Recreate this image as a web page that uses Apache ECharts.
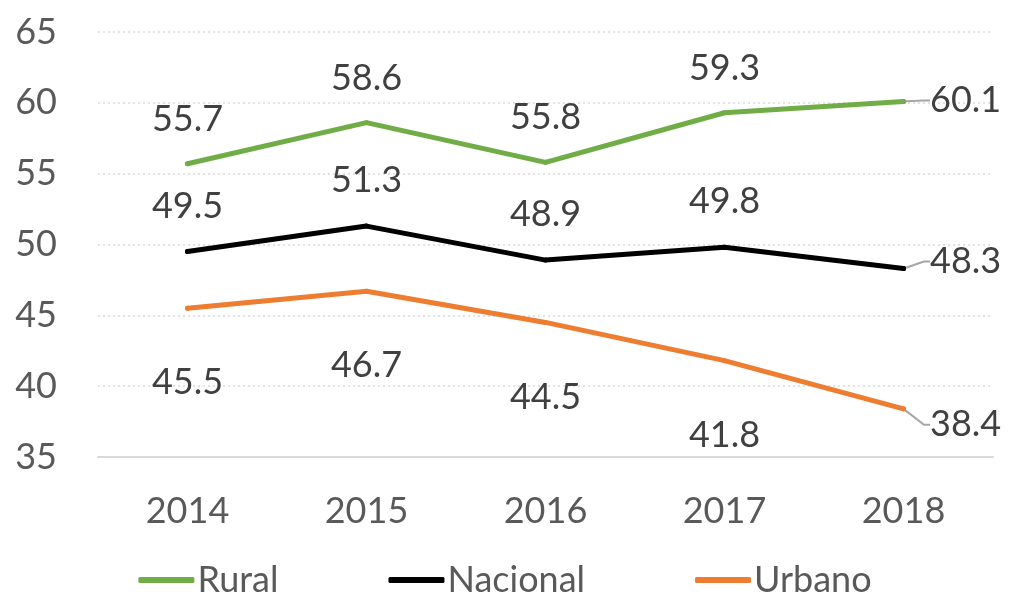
<!DOCTYPE html>
<html>
<head>
<meta charset="utf-8">
<script src="https://cdn.jsdelivr.net/npm/echarts@6/dist/echarts.min.js"></script>
<style>
  html, body { margin: 0; padding: 0; background: #fff; }
  #main { width: 1010px; height: 600px; }
</style>
</head>
<body>
<div id="main"></div>
<script>
  var years = ['2014', '2015', '2016', '2017', '2018'];
  var rural = [55.7, 58.6, 55.8, 59.3, 60.1];
  var nacional = [49.5, 51.3, 48.9, 49.8, 48.3];
  var urbano = [45.5, 46.7, 44.5, 41.8, 38.4];
  var yTicks = [35, 40, 45, 50, 55, 60, 65];

  var font = 'Lato';
  var chart = echarts.init(document.getElementById('main'));

  // desplazamiento de la última etiqueta (con línea guía)
  var lastShift = [[20, -1], [20, -7], [20, 16]];

  function makeSeries(name, data, color, pos, dist, idx) {
    return {
      name: name,
      type: 'line',
      data: data.map(function (v, i) {
        if (i === data.length - 1) {
          return {
            value: v,
            label: { position: 'right', distance: 4 },
            labelLine: { show: true, length2: 6, lineStyle: { color: '#a6a6a6', width: 2 } }
          };
        }
        return v;
      }),
      symbol: 'circle',
      symbolSize: 5,
      itemStyle: { color: color },
      lineStyle: { color: color, width: 5, cap: 'round' },
      label: {
        show: true,
        position: pos,
        distance: dist,
        fontFamily: font,
        fontSize: 36,
        color: '#404040',
        formatter: function (p) { return p.value.toFixed(1); }
      },
      labelLine: { show: false },
      labelLayout: function (p) {
        if (p.dataIndex === data.length - 1) {
          return { dx: lastShift[idx][0], dy: lastShift[idx][1] };
        }
        return {};
      },
      emphasis: { disabled: true },
      animation: false
    };
  }

  chart.setOption({
    animation: false,
    grid: { left: 98, right: 17, top: 32, bottom: 143 },
    legend: {
      bottom: -3,
      left: 'center',
      itemWidth: 56,
      itemHeight: 6,
      itemGap: 110,
      icon: 'roundRect',
      textStyle: { fontFamily: font, fontSize: 36, color: '#595959', padding: [0, 0, 0, -2] },
      data: ['Rural', 'Nacional', 'Urbano']
    },
    xAxis: {
      type: 'category',
      data: years,
      boundaryGap: true,
      axisLine: { lineStyle: { color: '#d9d9d9', width: 2 } },
      axisTick: { show: false },
      axisLabel: { fontFamily: font, fontSize: 36, color: '#595959', margin: 36 }
    },
    yAxis: {
      type: 'value',
      min: yTicks[0],
      max: yTicks[yTicks.length - 1],
      interval: 5,
      axisLine: { show: false },
      axisTick: { show: false },
      axisLabel: { fontFamily: font, fontSize: 36, color: '#595959', margin: 41 },
      splitLine: { lineStyle: { color: '#d9d9d9', type: [2, 3], width: 1.5 } }
    },
    series: [
      makeSeries('Rural', rural, '#70ad47', 'top', 24, 0),
      makeSeries('Nacional', nacional, '#000000', 'top', 25, 1),
      makeSeries('Urbano', urbano, '#ed7d31', 'bottom', 54, 2)
    ]
  });
</script>
</body>
</html>
